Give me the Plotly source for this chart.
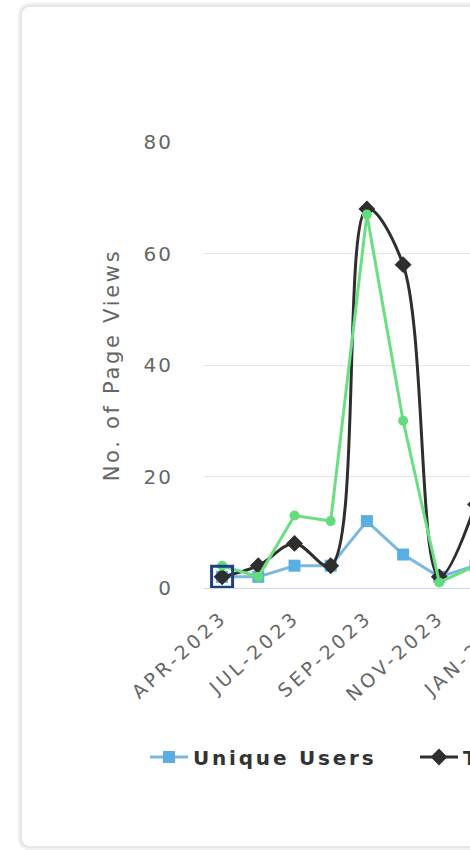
import plotly.graph_objects as go

# ---- data ----
categories = ["APR-2023", "JUN-2023", "JUL-2023", "AUG-2023", "SEP-2023",
              "OCT-2023", "NOV-2023", "DEC-2023", "JAN-2024"]
unique_users = [2, 2, 4, 4, 12, 6, 2, 4, None]
total_page_views = [2, 4, 8, 4, 68, 58, 2, 15, None]
sessions = [4, 2, 13, 12, 67, 30, 1, 4, None]
y_ticks = [0, 20, 40, 60, 80]
x_tick_labels = categories[::2]
series_names = ["Unique Users", "Total Page Views", "Sessions"]
y_title = "No. of Page Views"

# ---- layout geometry (pixels) ----
W, H = 1100, 850
L, R, T, B = 204, 40, 142, 262
PW, PH = W - L - R, H - T - B
SPACING = 36.2
x_range = [-0.5, -0.5 + PW / SPACING]

FONT = "DejaVu Sans"
GREY = "#666666"


def spaced(text, ls):
    return f'<span style="letter-spacing:{ls}px">{text}</span>'


fig = go.Figure()

fig.add_trace(go.Scatter(
    x=categories, y=unique_users, name=spaced(series_names[0], 2.8), mode="lines+markers",
    line=dict(color="#7DB7DE", width=3),
    marker=dict(symbol="square", size=12, color="#5AAEE3"),
))
fig.add_trace(go.Scatter(
    x=categories, y=total_page_views, name=spaced(series_names[1], 2.8), mode="lines+markers",
    line=dict(color="#2E2E2E", width=3, shape="spline", smoothing=1),
    marker=dict(symbol="diamond", size=13, color="#2E2E2E"),
))
fig.add_trace(go.Scatter(
    x=categories, y=sessions, name=spaced(series_names[2], 2.8), mode="lines+markers",
    line=dict(color="#6ADF82", width=3),
    marker=dict(symbol="circle", size=10, color="#62DC7C"),
))
# hover-style highlight on the first Unique Users point
fig.add_trace(go.Scatter(
    x=categories[:1], y=unique_users[:1], mode="markers", showlegend=False,
    hoverinfo="skip",
    marker=dict(symbol="square-open", size=21, color="#1E3F80",
                line=dict(width=3, color="#1E3F80")),
))


def px_x(px):
    return (px - L) / PW


def px_y(py):
    return (H - B - py) / PH


def rounded_rect(x0, y0, x1, y1, r):
    pts = [
        f"M {px_x(x0 + r)} {px_y(y0)}",
        f"L {px_x(x1 - r)} {px_y(y0)}",
        f"Q {px_x(x1)} {px_y(y0)} {px_x(x1)} {px_y(y0 + r)}",
        f"L {px_x(x1)} {px_y(y1 - r)}",
        f"Q {px_x(x1)} {px_y(y1)} {px_x(x1 - r)} {px_y(y1)}",
        f"L {px_x(x0 + r)} {px_y(y1)}",
        f"Q {px_x(x0)} {px_y(y1)} {px_x(x0)} {px_y(y1 - r)}",
        f"L {px_x(x0)} {px_y(y0 + r)}",
        f"Q {px_x(x0)} {px_y(y0)} {px_x(x0 + r)} {px_y(y0)}",
        "Z",
    ]
    return " ".join(pts)


fig.add_shape(type="path", xref="paper", yref="paper",
              path=rounded_rect(19.5, 4.5, W - 19.5, H - 1.5, 11),
              line=dict(color="rgba(0,0,0,0.06)", width=3), layer="below")
fig.add_shape(type="path", xref="paper", yref="paper",
              path=rounded_rect(21, 6, W - 21, H - 3, 10),
              line=dict(color="#E2E2E2", width=1.5), layer="below")

fig.update_layout(
    width=W, height=H,
    margin=dict(l=L, r=R, t=T, b=B),
    paper_bgcolor="white", plot_bgcolor="white",
    font=dict(family=FONT, color=GREY),
    showlegend=True,
    legend=dict(
        orientation="h", xref="container", yref="container",
        x=145 / W, xanchor="left", y=1 - 757 / H, yanchor="middle",
        font=dict(family=FONT, size=20, color="#333333", weight="bold"),
        itemwidth=38,
        entrywidth=217, entrywidthmode="pixels",
        bgcolor="rgba(0,0,0,0)",
    ),
    hovermode=False,
)

fig.update_xaxes(
    type="category", categoryorder="array", categoryarray=categories,
    range=x_range, tickmode="array", tickvals=x_tick_labels,
    ticktext=[spaced(t, 3.5) for t in x_tick_labels],
    tickangle=-42, tickfont=dict(family=FONT, size=19, color=GREY),
    showgrid=False, showline=True, linecolor="#CCD6EB", linewidth=1,
    ticks="", zeroline=False, ticklabelstandoff=10,
)
fig.update_yaxes(
    range=[0, 80], tickmode="array", tickvals=y_ticks,
    ticktext=[spaced(str(v), 2) for v in y_ticks],
    tickfont=dict(family=FONT, size=20, color=GREY),
    showgrid=True, gridcolor="#E6E6E6", gridwidth=1,
    zeroline=False, showline=False, ticks="", ticklabelstandoff=30,
    title=dict(text=spaced(y_title, 2.7), font=dict(family=FONT, size=21, color=GREY),
               standoff=18),
)

fig.write_html(
    "out.html",
    post_script="document.documentElement.style.overflow='hidden';"
                "document.body.style.margin='0';document.body.style.overflow='hidden';",
)
